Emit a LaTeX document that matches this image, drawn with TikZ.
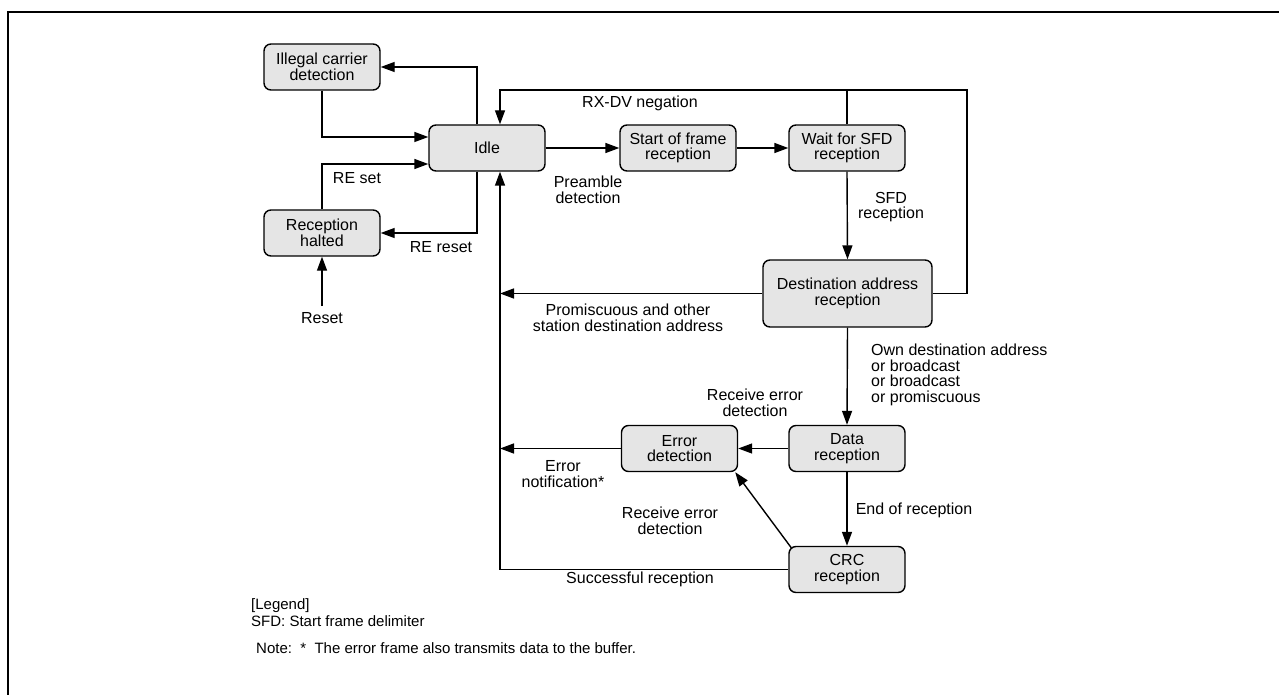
\documentclass[tikz,border=0pt]{standalone}
\usepackage{fontspec}
\setmainfont{Liberation Sans}
\usetikzlibrary{arrows.meta}
\begin{document}
\begin{tikzpicture}[x=1pt,y=-1pt,
 box/.style={draw, line width=1.4pt, rounded corners=7pt, fill=black!10, minimum width=116pt, minimum height=46pt, align=center, inner sep=0pt, font=\fontsize{16}{15.5}\selectfont},
 lbl/.style={align=center, inner sep=0pt, font=\fontsize{16}{15.5}\selectfont},
 leg/.style={anchor=base west, inner sep=0pt, font=\fontsize{15}{15}\selectfont},
 conn/.style={line width=1.4pt},
 arr/.style={conn, -{Triangle[length=14pt,width=10pt]}},
]
\useasboundingbox (0,0) rectangle (1279,695);
\draw[line width=2pt] (8,695) -- (8,12) -- (1279,12);

% states
\node[box] (ill) at (322,67) {Illegal carrier\\detection};
\node[box] (idle) at (487,148) {Idle};
\node[box] (halt) at (322,233) {Reception\\halted};
\node[box] (sof) at (678,148) {Start of frame\\reception};
\node[box] (wait) at (847,148) {Wait for SFD\\reception};
\node[box, minimum width=169pt, minimum height=67pt] (dest) at (847.5,293.5) {Destination address\\reception};
\node[box] (data) at (847,448.5) {Data\\reception};
\node[box] (err) at (679.5,448.5) {Error\\detection};
\node[box] (crc) at (847,569.5) {CRC\\reception};

% helper coordinates
\coordinate (vx) at ([xshift=13pt]idle.south);
\coordinate (rxl) at (500,90);
\coordinate (rxr) at (967,90);

% connectors
\draw[arr] ([xshift=-10pt]idle.north) |- (ill.east);
\draw[arr] (ill.south) |- ([yshift=11pt]idle.west);
\draw[arr] (halt.north) |- ([yshift=-16pt]idle.west);
\draw[arr] ([xshift=-10pt]idle.south) |- (halt.east);
\node[lbl] (reset) at (322,318) {Reset};
\draw[arr] ([yshift=6pt]reset.north) -- (halt.south);

\draw[arr] (idle.east) -- (sof.west);
\draw[arr] (sof.east) -- (wait.west);
\draw[arr] (wait.south) -- (dest.north);
\draw[arr] (dest.east) -| (rxr) -- (rxl) -- ([xshift=13pt]idle.north);
\draw[conn] (wait.north) -- (wait.north |- rxr);

\draw[arr] (dest.west) -- (dest.west -| vx);
\draw[arr] (dest.south) -- (data.north);
\draw[arr] (data.west) -- (err.east);
\draw[arr] (err.west) -- (err.west -| vx);
\draw[arr] (data.south) -- (crc.north);
\draw[arr] ([shift={(3pt,-2pt)}]crc.north west) -- ([shift={(-3pt,0pt)}]err.south east);
\draw[arr] (crc.west) -| (vx);

% labels
\node[lbl] (l1) at (640,103) {RX-DV negation};
\node[lbl] (l2) at (357,178) {RE set};
\node[lbl] (l3) at (441,247) {RE reset};
\node[lbl] (l4) at (588,190) {Preamble\\detection};
\node[lbl] (l5) at (891,207) {SFD\\reception};
\node[lbl] (l6) at (628,318) {Promiscuous and other\\station destination address};
\node[lbl, align=left, anchor=west] (l7) at (871,375) {Own destination address\\or broadcast\\or broadcast\\or promiscuous};
\node[lbl] (l8) at (755,403) {Receive error\\detection};
\node[lbl] (l9) at (563,474) {Error\\notification*};
\node[lbl] (l10) at (670,521) {Receive error\\detection};
\node[lbl] (l11) at (914,510) {End of reception};
\node[lbl] (l12) at (640,579) {Successful reception};

% legend
\node[leg] (g1) at (251,609) {[Legend]};
\node[leg] (g2) at (251,626) {SFD: Start frame delimiter};
\node[leg] (g3) at (256,653) {Note:\ \ *\ \ The error frame also transmits data to the buffer.};
\end{tikzpicture}
\end{document}
